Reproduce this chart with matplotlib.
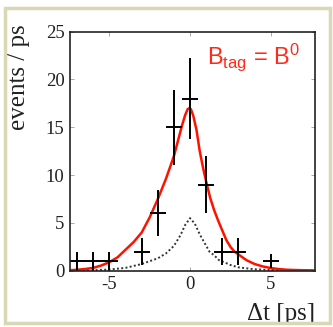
import matplotlib
matplotlib.use("Agg")
import matplotlib.pyplot as plt
from matplotlib.patches import Rectangle

# data points (delta t bins)
dt = [-7, -6, -5, -3, -2, -1, 0, 1, 2, 3, 5]
events = [1, 1, 1, 2, 6, 15, 18, 9, 2, 2, 1]
err_y = [1.0, 1.0, 1.0, 1.4, 2.4, 3.9, 4.2, 3.0, 1.4, 1.4, 0.7]
err_x = [0.5] * len(dt)

# fit curve (red)
fit_x = [-7.45, -7, -6.5, -6, -5.5, -5, -4.5, -4, -3.5, -3, -2.5, -2, -1.5, -1,
         -0.75, -0.5, -0.3, -0.15, -0.05, 0.05, 0.2, 0.4, 0.6, 0.8, 1.0, 1.25, 1.5, 1.75,
         2.0, 2.25, 2.5, 2.75, 3.0, 3.5, 4, 4.5, 5, 5.5, 6, 6.5, 7, 7.75]
fit_y = [0.05, 0.1, 0.18, 0.3, 0.55, 0.9, 1.4, 2.2, 3.0, 4.0, 5.6, 7.5, 9.6, 12.0,
         13.6, 15.2, 16.3, 16.9, 17.0, 16.9, 16.2, 14.7, 12.5, 10.8, 9.3, 7.6, 6.3, 5.2,
         4.2, 3.2, 2.5, 2.0, 1.7, 1.1, 0.7, 0.45, 0.28, 0.17, 0.1, 0.07, 0.05, 0.03]

# background component (dotted)
bkg_x = [-7.45, -6, -5, -4, -3, -2.5, -2, -1.5, -1, -0.6, -0.3, 0, 0.3, 0.6,
         0.9, 1.2, 1.5, 1.8, 2.1, 2.5, 3.0, 3.5, 4, 5, 6, 7.75]
bkg_y = [0.02, 0.05, 0.12, 0.3, 0.7, 1.0, 1.3, 1.8, 2.6, 3.7, 4.8, 5.5, 4.9, 3.8,
         2.9, 2.0, 1.6, 1.1, 0.9, 0.6, 0.35, 0.25, 0.15, 0.08, 0.04, 0.02]

fig = plt.figure(figsize=(3.33, 3.27), dpi=100)
fig.patches.append(Rectangle((5 / 333, 4 / 327), 325 / 333, 315 / 327, transform=fig.transFigure,
                             fill=False, edgecolor="#d8d8b4", linewidth=2.5))

ax = fig.add_axes([70 / 333, 1 - 270.7 / 327, 245 / 333, 239 / 327])

ax.plot(bkg_x, bkg_y, color="#333333", linestyle=(0, (1, 1.2)), linewidth=1.4)
ax.plot(fit_x, fit_y, color="#ff1100", linewidth=1.8)
ax.errorbar(dt, events, yerr=err_y, xerr=err_x, fmt="none", ecolor="black",
            elinewidth=1.4, capsize=0)

ax.set_xlim(-7.45, 7.75)
ax.set_ylim(0, 25)
ax.set_xticks([-5, 0, 5])
ax.set_xticklabels(["-5", "0", "5"])
ax.set_yticks([0, 5, 10, 15, 20, 25])
ax.tick_params(direction="in", top=True, right=True, length=3, width=0.6,
               color="#999999", labelsize=13.5, pad=4)
for lab in ax.get_xticklabels() + ax.get_yticklabels():
    lab.set_fontfamily("Liberation Serif")
    lab.set_color("#222222")
for s in ax.spines.values():
    s.set_linewidth(1.2)
    s.set_color("#222222")

ax.set_ylabel("events / ps", fontfamily="Liberation Serif", fontsize=18, color="#222222")
ax.yaxis.set_label_coords(-0.165, 0.81)
ax.text(1.0, -0.135, "\u0394t [ps]", transform=ax.transAxes, ha="right", va="top",
        fontfamily="Liberation Serif", fontsize=18, color="#222222")

plt.rcParams["mathtext.default"] = "regular"
ax.text(0.56, 0.865, r"B$_{tag}$ = B$^0$", transform=ax.transAxes, color="#ff2a1a",
        fontfamily="Liberation Sans", fontsize=17)

fig.savefig("out.png", dpi=100)
